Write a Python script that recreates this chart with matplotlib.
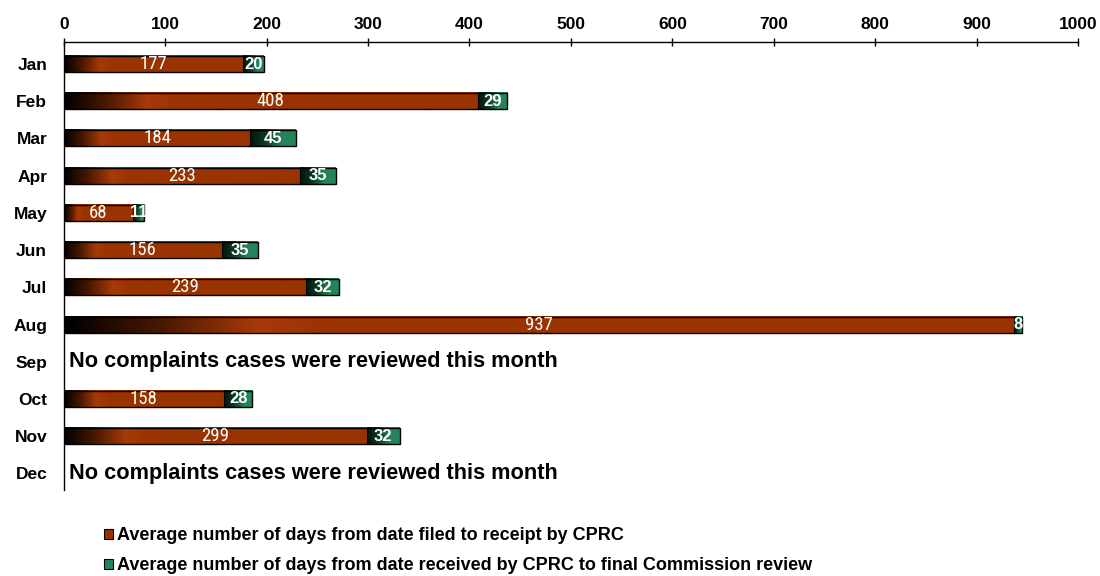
import numpy as np
from matplotlib import pyplot as plt
from matplotlib.colors import LinearSegmentedColormap
from matplotlib.patches import Patch

months = ["Jan", "Feb", "Mar", "Apr", "May", "Jun", "Jul", "Aug", "Sep", "Oct", "Nov", "Dec"]
days_to_receipt = [177, 408, 184, 233, 68, 156, 239, 937, None, 158, 299, None]
days_to_review = [20, 29, 45, 35, 11, 35, 32, 8, None, 28, 32, None]
no_case_note = "No complaints cases were reviewed this month"
legend_labels = ["Average number of days from date filed to receipt by CPRC",
                 "Average number of days from date received by CPRC to final Commission review"]

brown = "#993300"
green = "#23855a"
narrow = ["Roboto Condensed", "DejaVu Sans"]
arial = ["Liberation Sans", "DejaVu Sans"]

brown_cmap = LinearSegmentedColormap.from_list(
    "brown", [(0, "#000000"), (0.1, "#4a1800"), (0.2, "#a63a08"), (0.28, brown), (1, brown)])
green_cmap = LinearSegmentedColormap.from_list(
    "green", [(0, "#03140b"), (0.35, "#0c3a24"), (0.7, green), (1, green)])
grad = np.linspace(0, 1, 256).reshape(1, -1)

fig = plt.figure(figsize=(11, 5.76), dpi=100)
ax = fig.add_axes([0.058, 0.149, 0.922, 0.778])

h = 0.43
for i, m in enumerate(months):
    a = days_to_receipt[i]
    b = days_to_review[i]
    if a is None:
        ax.text(5, i, no_case_note, va="center", ha="left", fontsize=15.7,
                fontweight="bold", family=arial, color="black")
        continue
    ax.imshow(grad, cmap=brown_cmap, aspect="auto", interpolation="bilinear",
              extent=[0, a, i + h / 2, i - h / 2], zorder=2)
    ax.imshow(grad, cmap=green_cmap, aspect="auto", interpolation="bilinear",
              extent=[a, a + b, i + h / 2, i - h / 2], zorder=2)
    ax.barh(i, a + b, height=h, left=0, facecolor="none", edgecolor="black",
            linewidth=1, zorder=3)
    ax.plot([a, a], [i - h / 2, i + h / 2], color="black", lw=0.8, zorder=3)
    ax.text(a / 2, i, str(a), ha="center", va="center", color="white",
            fontsize=13.5, family=narrow, zorder=4)
    ax.text(a + b / 2, i, str(b), ha="center", va="center", color="white",
            fontsize=12, fontweight="bold", family=arial, zorder=4)

ax.set_xlim(0, 1000)
ax.set_ylim(11.45, -0.59)
ax.set_xticks(range(0, 1001, 100))
ax.xaxis.tick_top()
ax.tick_params(axis="x", direction="inout", length=6, width=1, pad=4)
ax.set_yticks(range(len(months)))
ax.set_yticklabels(months)
ax.tick_params(axis="y", length=0, pad=12)
for lbl in ax.get_xticklabels() + ax.get_yticklabels():
    lbl.set_fontweight("bold")
    lbl.set_fontsize(12.5)
    lbl.set_fontfamily(arial)
for s in ["right", "bottom"]:
    ax.spines[s].set_visible(False)
ax.spines["top"].set_linewidth(1)
ax.spines["left"].set_linewidth(1)

handles = [Patch(facecolor=brown, edgecolor="black", linewidth=0.8),
           Patch(facecolor=green, edgecolor="black", linewidth=0.8)]
fig.legend(handles, legend_labels, loc="lower left", bbox_to_anchor=(0.08, -0.025),
           frameon=False, handlelength=0.5, handleheight=0.5, handletextpad=0.2,
           labelspacing=0.72, prop={"family": arial, "weight": "bold", "size": 13})

fig.savefig("out.png", dpi=100)
